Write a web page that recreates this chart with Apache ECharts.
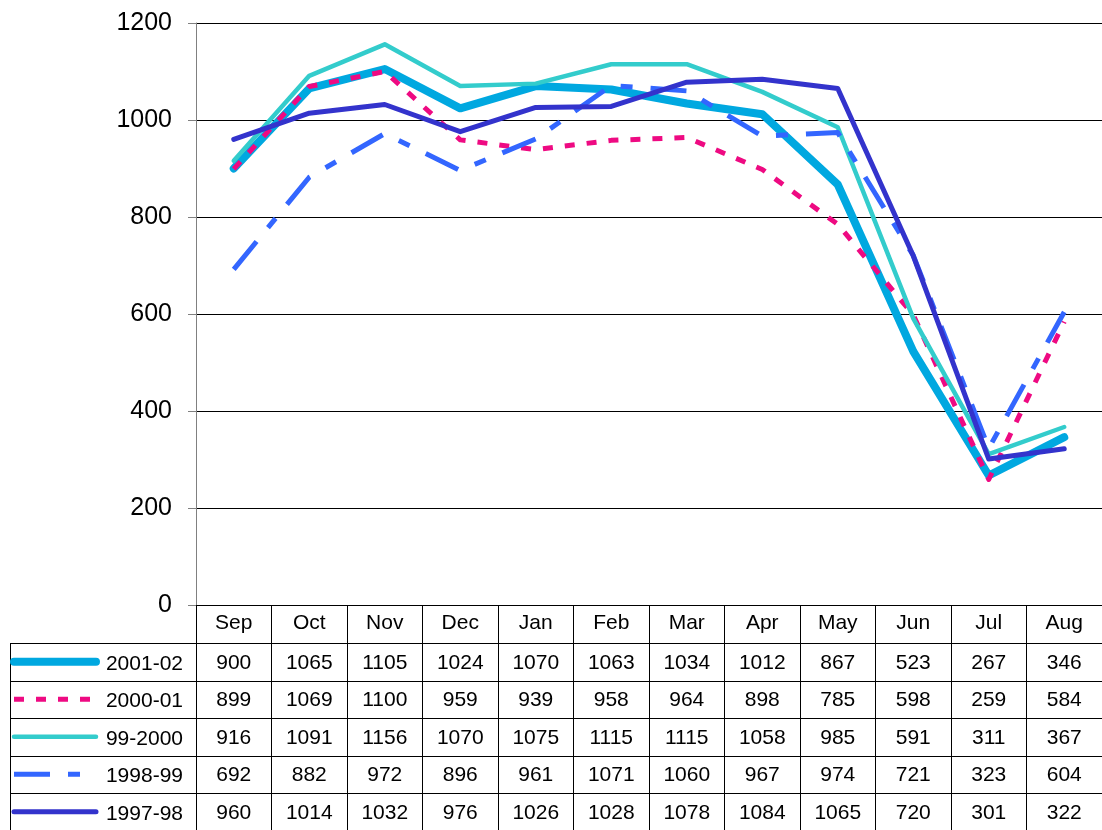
<!DOCTYPE html>
<html>
<head>
<meta charset="utf-8">
<script src="https://cdn.jsdelivr.net/npm/echarts@6/dist/echarts.min.js"></script>
<style>
  html, body { margin: 0; padding: 0; background: #fff; }
  #main { width: 1102px; height: 830px; }
</style>
</head>
<body>
<div id="main"></div>
<script>
// months and yearly series
const months = ["Sep","Oct","Nov","Dec","Jan","Feb","Mar","Apr","May","Jun","Jul","Aug"]
const seasons = ["2001-02","2000-01","99-2000","1998-99","1997-98"]
const s2001 = [900,1065,1105,1024,1070,1063,1034,1012,867,523,267,346]
const s2000 = [899,1069,1100,959,939,958,964,898,785,598,259,584]
const s1999 = [916,1091,1156,1070,1075,1115,1115,1058,985,591,311,367]
const s1998 = [692,882,972,896,961,1071,1060,967,974,721,323,604]
const s1997 = [960,1014,1032,976,1026,1028,1078,1084,1065,720,301,322]
const values = [s2001, s2000, s1999, s1998, s1997]

// line look for each series
const styles = [
  { color: '#00A8E0', width: 8, type: 'solid', cap: 'round' },
  { color: '#EE0A82', width: 5, type: [10, 12], cap: 'butt' },
  { color: '#33CCCC', width: 4.5, type: 'solid', cap: 'round' },
  { color: '#3366FF', width: 5, type: [36, 18, 12, 18], cap: 'butt' },
  { color: '#3333CC', width: 5, type: 'solid', cap: 'round' }
]

const gridLeft = 196, gridTop = 23, gridBottom = 225
const firstRowTop = 643, rowH = 37.5, tableLeft = 10
const font = '21px Liberation Sans, Arial, sans-serif'

var chart = echarts.init(document.getElementById('main'))
chart.setOption({
  animation: false,
  textStyle: { fontFamily: 'Liberation Sans, Arial, sans-serif' },
  grid: { left: gridLeft, right: 0, top: gridTop, bottom: gridBottom },
  xAxis: {
    type: 'category',
    data: months,
    boundaryGap: true,
    axisLine: { lineStyle: { color: '#000', width: 1 } },
    axisTick: { show: true, length: 225, lineStyle: { color: '#000', width: 1 } },
    axisLabel: { color: '#000', fontSize: 21, margin: 8, interval: 0 }
  },
  yAxis: {
    type: 'value',
    min: 0, max: 1200, interval: 200,
    axisLine: { show: true, lineStyle: { color: '#808080', width: 1 } },
    axisTick: { show: true, length: 8, lineStyle: { color: '#808080' } },
    axisLabel: { color: '#000', fontSize: 25, margin: 24, formatter: v => String(v) },
    splitLine: { lineStyle: { color: '#000', width: 1 } }
  },
  series: seasons.map((name, i) => ({
    name: name,
    type: 'line',
    data: values[i],
    symbol: 'none',
    lineStyle: { color: styles[i].color, width: styles[i].width, type: styles[i].type, cap: styles[i].cap, join: 'round' },
    z: 2 + i
  }))
})

// data table under the plot
function drawTable(){
  const g = []
  const right = 1102
  const bottom = firstRowTop + rowH * seasons.length
  for (let r = 0; r <= seasons.length; r++) {
    const y = Math.round(firstRowTop + rowH * r) + 0.5
    g.push({ type: 'line', shape: { x1: tableLeft, y1: y, x2: right, y2: y }, style: { stroke: '#000', lineWidth: 1 } })
  }
  g.push({ type: 'line', shape: { x1: tableLeft + 0.5, y1: firstRowTop, x2: tableLeft + 0.5, y2: bottom }, style: { stroke: '#000', lineWidth: 1 } })
  seasons.forEach((name, r) => {
    const cy = firstRowTop + rowH * r + rowH / 2
    const st = styles[r]
    g.push({ type: 'line', shape: { x1: 14, y1: cy, x2: 96, y2: cy },
      style: { stroke: st.color, lineWidth: st.width, lineDash: Array.isArray(st.type) ? st.type : null, lineCap: st.cap } })
    g.push({ type: 'text', x: 183, y: cy + 2,
      style: { text: name, fill: '#000', font: font, align: 'right', verticalAlign: 'middle' } })
    values[r].forEach((v, c) => {
      const cx = chart.convertToPixel({ xAxisIndex: 0 }, c)
      g.push({ type: 'text', x: cx, y: cy + 1,
        style: { text: String(v), fill: '#000', font: font, align: 'center', verticalAlign: 'middle' } })
    })
  })
  chart.setOption({ graphic: g })
}
drawTable()
</script>
</body>
</html>
